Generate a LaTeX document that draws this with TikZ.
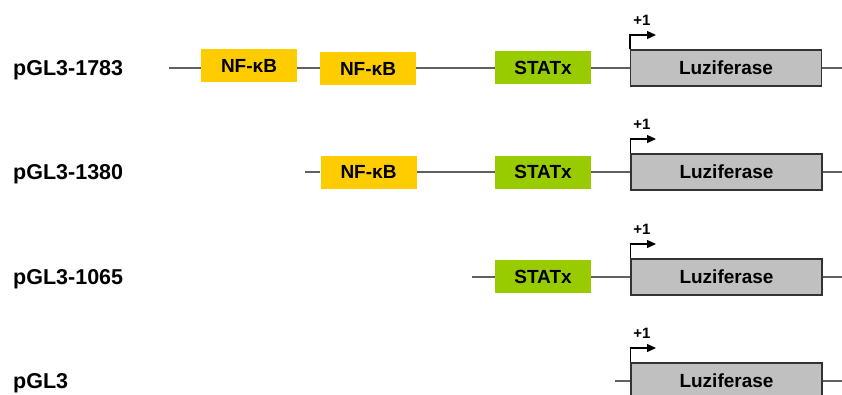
\documentclass[tikz,border=0pt]{standalone}
\usepackage{fontspec}
\setmainfont{Liberation Sans}
\usetikzlibrary{arrows.meta}
\definecolor{nfyellow}{HTML}{FFCC00}
\definecolor{statgreen}{HTML}{99CC00}
\definecolor{luzgray}{HTML}{C0C0C0}
\definecolor{linegray}{HTML}{606060}
\tikzset{
  dna/.style={draw=linegray, line width=1.4pt},
  nfbox/.style={fill=nfyellow, minimum width=96pt, minimum height=33pt, inner sep=0pt,
    font=\fontsize{19}{22}\selectfont\bfseries},
  statbox/.style={fill=statgreen, minimum width=96pt, minimum height=33pt, inner sep=0pt,
    font=\fontsize{19}{22}\selectfont\bfseries},
  luzbox/.style={fill=luzgray, draw=black!80, line width=1.2pt, minimum width=191pt, minimum height=36pt, inner sep=0pt,
    font=\fontsize{19}{22}\selectfont\bfseries},
  rowlabel/.style={anchor=base west, inner sep=0pt, font=\fontsize{21.5}{24}\selectfont\bfseries},
  tss/.style={draw=black, line width=1.3pt, -{Triangle[length=9pt,width=8pt]}},
  plusone/.style={inner sep=0pt, font=\fontsize{15}{17}\selectfont\bfseries}
}
\begin{document}
\begin{tikzpicture}[x=1pt,y=-1pt]
\useasboundingbox (0,0) rectangle (842,394);
\clip (0,0) rectangle (842,394);
% Row 1
\node[rowlabel] (lab1) at (13,75.5) {pGL3-1783};
\coordinate (s1) at (169,68);
\coordinate (e1) at (842,68);
\node[nfbox] (nfa1) at (249,65.5) {NF-κB};
\node[nfbox] (nfb1) at (368,68.5) {NF-κB};
\node[statbox] (st1) at (543,67.5) {STATx};
\node[luzbox] (lz1) at (726,68) {Luziferase};
\draw[dna] (s1) -- (nfa1.west |- s1);
\draw[dna] (nfa1.east |- s1) -- (nfb1.west |- s1);
\draw[dna] (nfb1.east |- s1) -- (st1.west |- s1);
\draw[dna] (st1.east |- s1) -- (lz1.west |- s1);
\draw[dna] (lz1.east |- s1) -- (e1);
\coordinate (t1) at (656,35);
\draw[tss] (lz1.north west) |- (t1);
\node[plusone] (p1) at (642,20) {+1};
% Row 2
\node[rowlabel] (lab2) at (13,179.5) {pGL3-1380};
\coordinate (s2) at (305,172);
\coordinate (e2) at (842,172);
\node[nfbox] (nf2) at (368.5,172) {NF-κB};
\node[statbox] (st2) at (543,172) {STATx};
\node[luzbox] (lz2) at (726.5,172) {Luziferase};
\draw[dna] (s2) -- (nf2.west |- s2);
\draw[dna] (nf2.east |- s2) -- (st2.west |- s2);
\draw[dna] (st2.east |- s2) -- (lz2.west |- s2);
\draw[dna] (lz2.east |- s2) -- (e2);
\coordinate (t2) at (656,139);
\draw[tss] (lz2.north west) |- (t2);
\node[plusone] (p2) at (642,124) {+1};
% Row 3
\node[rowlabel] (lab3) at (13,284.5) {pGL3-1065};
\coordinate (s3) at (472,277);
\coordinate (e3) at (842,277);
\node[statbox] (st3) at (543,276.5) {STATx};
\node[luzbox] (lz3) at (726.5,277) {Luziferase};
\draw[dna] (s3) -- (st3.west |- s3);
\draw[dna] (st3.east |- s3) -- (lz3.west |- s3);
\draw[dna] (lz3.east |- s3) -- (e3);
\coordinate (t3) at (656,244);
\draw[tss] (lz3.north west) |- (t3);
\node[plusone] (p3) at (642,229) {+1};
% Row 4
\node[rowlabel] (lab4) at (13,388.5) {pGL3};
\coordinate (s4) at (615,381);
\coordinate (e4) at (842,381);
\node[luzbox] (lz4) at (726.5,381) {Luziferase};
\draw[dna] (s4) -- (lz4.west |- s4);
\draw[dna] (lz4.east |- s4) -- (e4);
\coordinate (t4) at (656,348);
\draw[tss] (lz4.north west) |- (t4);
\node[plusone] (p4) at (642,333) {+1};
\end{tikzpicture}
\end{document}
